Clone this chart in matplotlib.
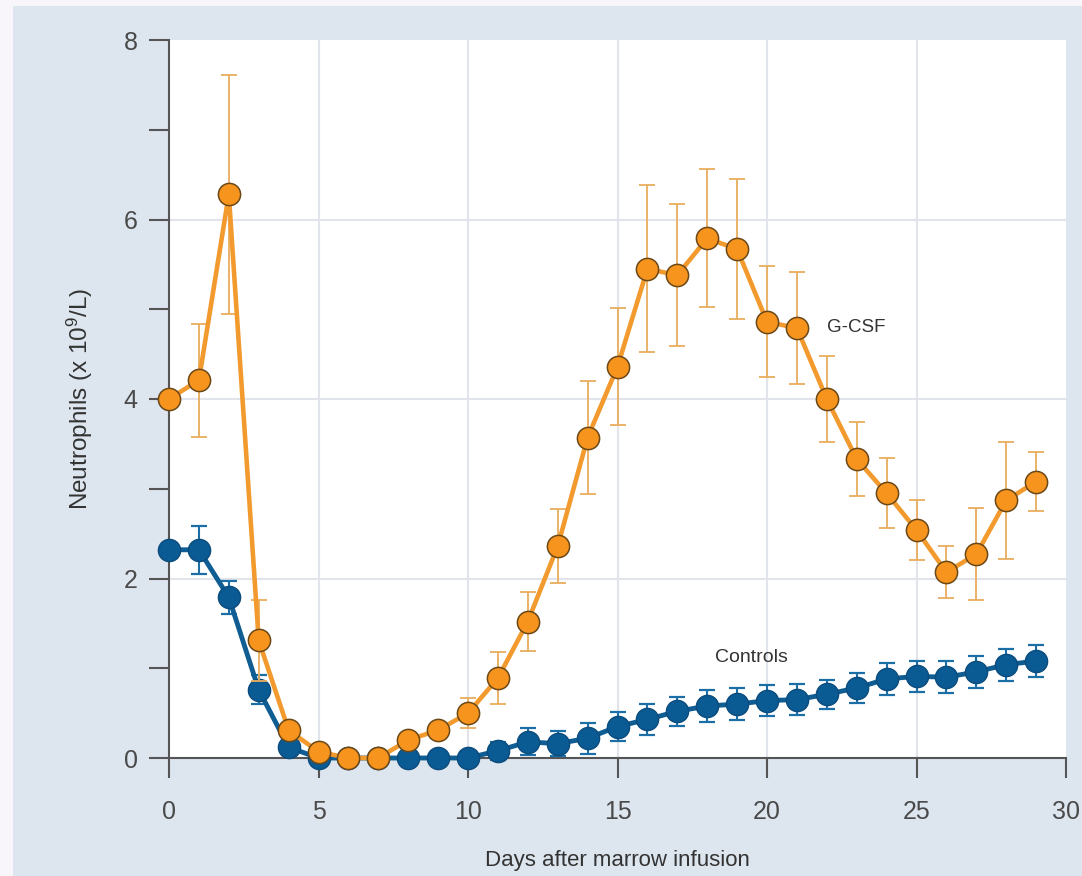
import numpy as np
import matplotlib
matplotlib.use("Agg")
import matplotlib.pyplot as plt
from matplotlib.patches import Rectangle

# Data
days = list(range(30))

gcsf = [4.00, 4.21, 6.28, 1.31, 0.31, 0.07, 0.00, 0.00, 0.20, 0.31,
        0.50, 0.89, 1.52, 2.36, 3.57, 4.36, 5.45, 5.38, 5.79, 5.67,
        4.86, 4.79, 4.00, 3.33, 2.95, 2.54, 2.07, 2.27, 2.87, 3.08]
gcsf_err = [0.00, 0.63, 1.33, 0.45, 0.00, 0.00, 0.00, 0.00, 0.00, 0.00,
            0.17, 0.29, 0.33, 0.41, 0.63, 0.65, 0.93, 0.79, 0.77, 0.78,
            0.62, 0.62, 0.48, 0.41, 0.39, 0.33, 0.29, 0.51, 0.65, 0.33]

controls = [2.32, 2.32, 1.79, 0.76, 0.12, 0.00, 0.00, 0.00, 0.00, 0.00,
            0.00, 0.08, 0.18, 0.16, 0.22, 0.35, 0.43, 0.52, 0.58, 0.60,
            0.64, 0.65, 0.71, 0.78, 0.88, 0.91, 0.90, 0.96, 1.04, 1.08]
controls_err = [0.00, 0.27, 0.18, 0.16, 0.00, 0.00, 0.00, 0.00, 0.00, 0.00,
                0.00, 0.10, 0.15, 0.14, 0.17, 0.16, 0.17, 0.16, 0.18, 0.18,
                0.17, 0.17, 0.16, 0.17, 0.18, 0.17, 0.18, 0.18, 0.18, 0.18]

x_ticks = [0, 5, 10, 15, 20, 25, 30]
y_major = [0, 2, 4, 6, 8]
y_minor = [1, 3, 5, 7]

plt.rcParams['font.family'] = ['Liberation Sans', 'DejaVu Sans']
plt.rcParams['mathtext.default'] = 'regular'

PANEL = '#dde5ef'
ORANGE_LINE = '#f29a2e'
ORANGE_FILL = '#f7941d'
ORANGE_EDGE = '#6b4818'
ORANGE_ERR = '#e9ad5e'
BLUE_LINE = '#0f5d92'
BLUE_FILL = '#0a5a94'
BLUE_ERR = '#1b6ea6'
AXIS = '#555555'

fig = plt.figure(figsize=(10.82, 8.76), dpi=100)
fig.patch.set_facecolor('#f8f6fa')
fig.patches.append(Rectangle((13 / 1082, 0), 1, 1 - 6 / 876, transform=fig.transFigure,
                             facecolor=PANEL, edgecolor='none', zorder=-10))

ax = fig.add_axes([169 / 1082, 1 - 758 / 876, (1066 - 169) / 1082, (758 - 40) / 876])
ax.set_facecolor('white')
ax.set_xlim(0, 30)
ax.set_ylim(0, 8)

# light grid lines
for v in [2, 4, 6]:
    ax.axhline(v, color='#e1e5eb', lw=1.5, zorder=0)
for d in [5, 10, 15, 20, 25]:
    ax.axvline(d, color='#e1e5eb', lw=1.5, zorder=0)

# controls
ax.errorbar(days, controls, yerr=controls_err, fmt='none', ecolor=BLUE_ERR,
            elinewidth=1.5, capsize=6, capthick=1.6, zorder=2, clip_on=False)
ax.plot(days, controls, '-o', color=BLUE_LINE, lw=3.5, markersize=16,
        markerfacecolor=BLUE_FILL, markeredgecolor='#0b4c7c', markeredgewidth=1,
        zorder=3, clip_on=False)

# G-CSF
ax.errorbar(days, gcsf, yerr=gcsf_err, fmt='none', ecolor=ORANGE_ERR,
            elinewidth=1.3, capsize=6, capthick=1.3, zorder=4, clip_on=False)
ax.plot(days, gcsf, '-o', color=ORANGE_LINE, lw=3.3, markersize=16,
        markerfacecolor=ORANGE_FILL, markeredgecolor=ORANGE_EDGE, markeredgewidth=1.1,
        zorder=5, clip_on=False)

# spines and ticks
for side in ['top', 'right']:
    ax.spines[side].set_visible(False)
for side in ['left', 'bottom']:
    ax.spines[side].set_color(AXIS)
    ax.spines[side].set_linewidth(1.5)
    ax.spines[side].set_zorder(1)

ax.set_xticks(x_ticks)
ax.set_yticks(y_major)
ax.set_yticks(y_minor, minor=True)
ax.tick_params(axis='both', which='both', direction='out', length=14.5, width=1.5,
               color=AXIS, labelcolor='#4a4a4a', labelsize=18)
ax.tick_params(axis='x', pad=16)
ax.tick_params(axis='y', pad=8)

ax.set_xlabel('Days after marrow infusion', fontsize=16, color='#333333')
ax.set_ylabel('Neutrophils (x 10$^9$/L)', fontsize=17.5, color='#333333')
ax.xaxis.set_label_coords(0.5, -0.128)
ax.yaxis.set_label_coords(-0.082, 0.5)

ax.text(22.0, 4.8, 'G-CSF', fontsize=13.5, color='#333333', va='center', ha='left')
ax.text(18.25, 1.12, 'Controls', fontsize=14, color='#333333', va='center', ha='left')

fig.savefig('out.png', dpi=100, facecolor=fig.get_facecolor())
